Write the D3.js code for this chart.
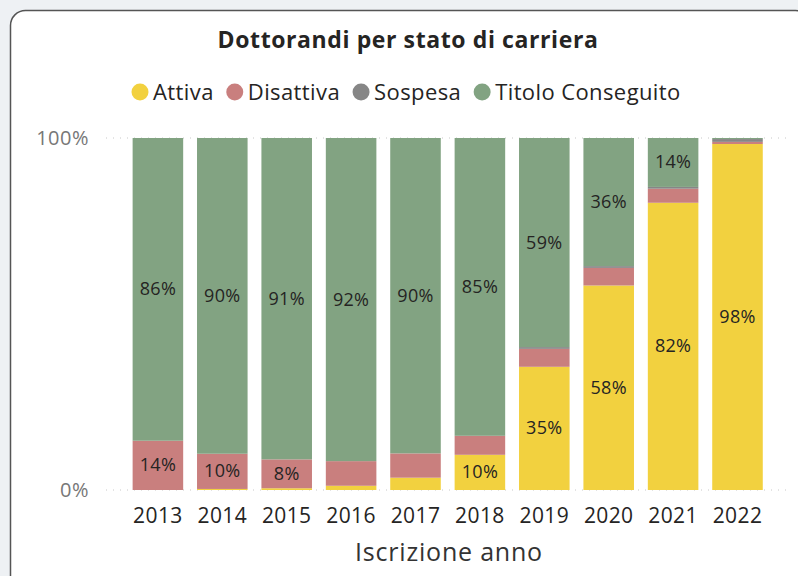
<!DOCTYPE html>
<html>
<head>
    <title>Dottorandi per stato di carriera</title>
    <script src="https://d3js.org/d3.v7.min.js"></script>
    <style>
        body {
            margin: 0;
            padding: 0;
            background: #eef1f4;
            font-family: "Open Sans", "Noto Sans", sans-serif;
        }
        svg { display: block; }
        .title { font-size: 23px; font-weight: 700; fill: #252423; text-anchor: middle; letter-spacing: 0.6px; }
        .legend-label { font-size: 22px; fill: #252423; letter-spacing: 0.4px; }
        .y-label { font-size: 20px; fill: #777; text-anchor: end; letter-spacing: 0.5px; }
        .x-label { font-size: 21px; fill: #252423; text-anchor: middle; letter-spacing: 0.4px; }
        .axis-title { font-size: 25px; fill: #333; text-anchor: middle; letter-spacing: 0.8px; }
        .value-label { font-size: 18px; fill: #252423; text-anchor: middle; letter-spacing: 0.3px; }
        .grid { stroke: #c8c8c8; stroke-width: 1; stroke-dasharray: 1 6; }
    </style>
</head>
<body>
    <svg id="chart" width="798" height="576"></svg>
    <script>
        // data (percent per year)
        const years = ['2013', '2014', '2015', '2016', '2017', '2018', '2019', '2020', '2021', '2022'];
        const statuses = ['Attiva', 'Disattiva', 'Sospesa', 'Titolo Conseguito'];
        const attiva    = [0,   0.3, 0.5, 1.2, 3.5, 10, 35,  58.1, 81.6, 98.3];
        const disattiva = [14,  10,  8.2, 7,   6.9, 5.4, 5.1, 5,  4,    0.6];
        const sospesa   = [0,   0,   0,   0,   0,   0,  0.5, 0.5, 0.5,  0.8];
        const titolo    = [86,  89.7, 91.3, 91.8, 89.6, 84.6, 59.4, 36.4, 13.9, 0.3];
        const yTicks = [0, 100];
        const colors = ['#f2d13f', '#c97f7e', '#868686', '#82a382'];

        const svg = d3.select('#chart');

        // card
        svg.append('rect')
            .attr('x', 10.5).attr('y', 10.5)
            .attr('width', 800).attr('height', 600)
            .attr('rx', 15)
            .attr('fill', '#fff')
            .attr('stroke', '#555')
            .attr('stroke-width', 1.5);

        svg.append('text')
            .attr('class', 'title')
            .attr('x', 408).attr('y', 48)
            .text('Dottorandi per stato di carriera');

        // legend
        const legend = svg.append('g');
        let lx = 140;
        statuses.forEach((s, i) => {
            legend.append('circle')
                .attr('cx', lx).attr('cy', 92).attr('r', 8.5)
                .attr('fill', colors[i]);
            const t = legend.append('text')
                .attr('class', 'legend-label')
                .attr('x', lx + 13).attr('y', 99.5)
                .text(s);
            lx += 13 + t.node().getComputedTextLength() + 21;
        });

        const x = d3.scaleBand()
            .domain(years)
            .range([125.7, 769.7])
            .paddingInner(0.215)
            .paddingOuter(0.1075);

        const y = d3.scaleLinear()
            .domain([0, 100])
            .range([490, 138]);

        // gridlines + y labels
        svg.selectAll('.grid')
            .data(yTicks)
            .join('line')
            .attr('class', 'grid')
            .attr('x1', 106).attr('x2', 792)
            .attr('y1', d => y(d)).attr('y2', d => y(d));

        svg.selectAll('.y-label')
            .data(yTicks)
            .join('text')
            .attr('class', 'y-label')
            .attr('x', 89)
            .attr('y', d => y(d) + 7)
            .text(d => d + '%');

        const table = years.map((yr, i) => ({
            year: yr,
            Attiva: attiva[i],
            Disattiva: disattiva[i],
            Sospesa: sospesa[i],
            'Titolo Conseguito': titolo[i]
        }));

        const series = d3.stack().keys(statuses)(table);

        const groups = svg.append('g')
            .selectAll('g')
            .data(series)
            .join('g')
            .attr('fill', (d, i) => colors[i]);

        groups.selectAll('rect')
            .data(d => d)
            .join('rect')
            .attr('x', d => x(d.data.year))
            .attr('width', x.bandwidth())
            .attr('y', d => y(d[1]))
            .attr('height', d => y(d[0]) - y(d[1]));

        // value labels where they fit
        series.forEach(s => {
            svg.append('g')
                .selectAll('text')
                .data(s.filter(d => d[1] - d[0] >= 7.5))
                .join('text')
                .attr('class', 'value-label')
                .attr('x', d => x(d.data.year) + x.bandwidth() / 2)
                .attr('y', d => y((d[0] + d[1]) / 2) + 6)
                .text(d => Math.round(d[1] - d[0]) + '%');
        });

        // x labels
        svg.selectAll('.x-label')
            .data(years)
            .join('text')
            .attr('class', 'x-label')
            .attr('x', d => x(d) + x.bandwidth() / 2)
            .attr('y', 523)
            .text(d => d);

        svg.append('text')
            .attr('class', 'axis-title')
            .attr('x', 449).attr('y', 561)
            .text('Iscrizione anno');
    </script>
</body>
</html>
